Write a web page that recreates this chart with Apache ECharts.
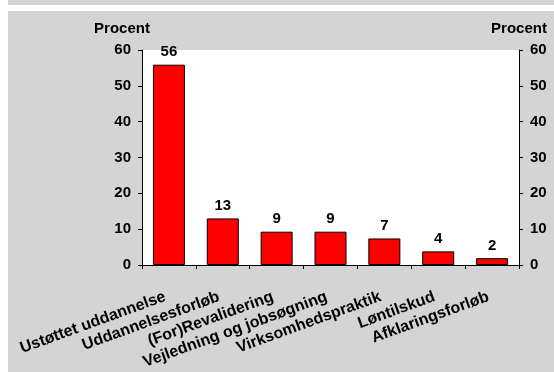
<!DOCTYPE html>
<html>
<head>
<meta charset="utf-8">
<script src="https://cdn.jsdelivr.net/npm/echarts@6/dist/echarts.min.js"></script>
<style>
html,body{margin:0;padding:0;background:#ffffff;}
#c{width:554px;height:372px;}
</style>
</head>
<body>
<div id="c"></div>
<script>
const categories = ["Ustøttet uddannelse","Uddannelsesforløb","(For)Revalidering","Vejledning og jobsøgning","Virksomhedspraktik","Løntilskud","Afklaringsforløb"];
const values = [55.9, 13.0, 9.3, 9.3, 7.4, 3.8, 1.9];
const axisName = "Procent";

const FONT = "'Liberation Sans', Arial, sans-serif";
const GRAY = "#d4d4d4";
const chart = echarts.init(document.getElementById('c'), null, {renderer:'canvas'});
const yAxisCommon = {
  type:'value', min:0, max:60, interval:10,
  name: axisName, nameLocation:'end', nameGap:14,
  axisLine:{show:true, lineStyle:{color:'#000', width:1}},
  axisTick:{show:true, inside:false, length:4, lineStyle:{color:'#000'}},
  splitLine:{show:false},
  axisLabel:{color:'#000', fontFamily:FONT, fontWeight:'bold', fontSize:15, margin:11},
};
chart.setOption({
  animation:false,
  backgroundColor:'#ffffff',
  graphic:[
    {type:'rect', z:-10, shape:{x:8,y:0,width:546,height:5}, style:{fill:GRAY}},
    {type:'rect', z:-10, shape:{x:8,y:11,width:546,height:361}, style:{fill:GRAY}}
  ],
  grid:{left:142, right:35, top:50, bottom:107, show:true, backgroundColor:'#ffffff', borderWidth:0},
  xAxis:{
    type:'category', data:categories,
    axisLine:{show:true, lineStyle:{color:'#000', width:1}},
    axisTick:{show:true, length:4, alignWithLabel:false, lineStyle:{color:'#000'}},
    axisLabel:{interval:0, rotate:20, margin:30, color:'#000', fontFamily:FONT, fontWeight:'bold', fontSize:16, padding:[0,4,0,0]}
  },
  yAxis:[
    Object.assign({}, yAxisCommon, {position:'left',
      nameTextStyle:{color:'#000', fontFamily:FONT, fontWeight:'bold', fontSize:15, align:'center', padding:[0,40,0,0]}}),
    Object.assign({}, yAxisCommon, {position:'right',
      nameTextStyle:{color:'#000', fontFamily:FONT, fontWeight:'bold', fontSize:15, align:'center', padding:[0,0,0,0]}})
  ],
  series:[{
    type:'bar', data:values, barWidth:32, yAxisIndex:0,
    itemStyle:{color:'#ff0000', borderColor:'#000', borderWidth:1},
    label:{show:true, position:'top', distance:5, color:'#000', fontFamily:FONT, fontWeight:'bold', fontSize:15,
      formatter:p=>Math.round(p.value)}
  }]
});
</script>
</body>
</html>
